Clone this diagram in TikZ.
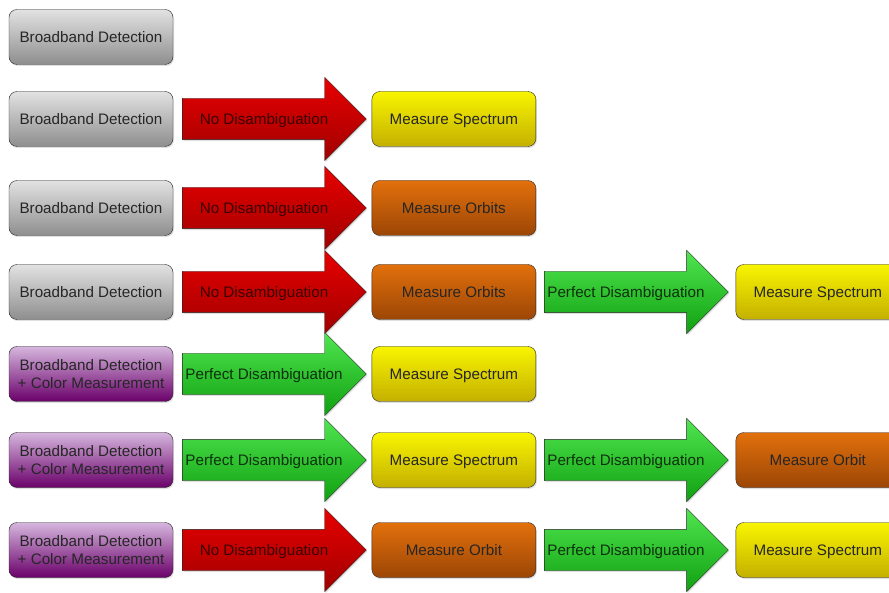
\documentclass[tikz,border=0pt]{standalone}
\usepackage{fontspec}
\setmainfont{Liberation Sans}
\usetikzlibrary{positioning,shapes.arrows,shadows}
\definecolor{greytop}{HTML}{E2E2E2}
\definecolor{greybot}{HTML}{8E8E8E}
\definecolor{purpletop}{HTML}{D6B6DE}
\definecolor{purplebot}{HTML}{6A006A}
\definecolor{yellowtop}{HTML}{F8F400}
\definecolor{yellowbot}{HTML}{C4B000}
\definecolor{orangetop}{HTML}{E2700C}
\definecolor{orangebot}{HTML}{9C4606}
\definecolor{redtop}{HTML}{E80000}
\definecolor{redbot}{HTML}{A00000}
\definecolor{greentop}{HTML}{50E650}
\definecolor{greenbot}{HTML}{10A010}
\definecolor{redtext}{HTML}{3A0000}
\definecolor{greentext}{HTML}{0E300E}

\begin{document}
\begin{tikzpicture}[
  x=1pt,y=-1pt,
  box/.style={draw=black!85,rounded corners=8pt,minimum width=164pt,minimum height=55pt,
    align=center,text=black!85,font=\fontsize{15.2}{18.5}\selectfont,text depth=0pt,
    drop shadow={opacity=0.25,shadow xshift=1pt,shadow yshift=-1.5pt}},
  greybox/.style={box,top color=greytop,bottom color=greybot},
  purplebox/.style={box,top color=purpletop,bottom color=purplebot},
  yellowbox/.style={box,top color=yellowtop,bottom color=yellowbot},
  orangebox/.style={box,top color=orangetop,bottom color=orangebot},
  disarrow/.style={single arrow,draw=black!85,minimum height=184pt,single arrow head extend=21pt,
    text height=12.4pt,text depth=1.6pt,inner ysep=13.5pt,inner xsep=5pt,
    font=\fontsize{15.2}{18}\selectfont,
    execute at begin node={\hbox to 110pt\bgroup\hss},
    execute at end node={\hss\egroup},
    drop shadow={opacity=0.25,shadow xshift=1pt,shadow yshift=-1.5pt}},
  redarrow/.style={disarrow,top color=redtop,bottom color=redbot,text=redtext},
  greenarrow/.style={disarrow,top color=greentop,bottom color=greenbot,text=greentext}
]
\useasboundingbox (0,0) rectangle (889,593);

% row 1
\node[greybox] (det1) at (91,37) {Broadband Detection};

% row 2
\node[greybox] (det2) at (91,119) {Broadband Detection};
\node[redarrow,right=9pt of det2] (dis2) {No Disambiguation};
\node[yellowbox,right=5pt of dis2] (meas2) {Measure Spectrum};

% row 3
\node[greybox] (det3) at (91,208) {Broadband Detection};
\node[redarrow,right=9pt of det3] (dis3) {No Disambiguation};
\node[orangebox,right=5pt of dis3] (meas3) {Measure Orbits};

% row 4
\node[greybox] (det4) at (91,292) {Broadband Detection};
\node[redarrow,right=9pt of det4] (dis4) {No Disambiguation};
\node[orangebox,right=5pt of dis4] (meas4) {Measure Orbits};
\node[greenarrow,right=8pt of meas4] (dis4b) {Perfect Disambiguation};
\node[yellowbox,right=7pt of dis4b] (meas4b) {Measure Spectrum};

% row 5
\node[purplebox] (det5) at (91,374) {Broadband Detection\\+ Color Measurement};
\node[greenarrow,right=9pt of det5] (dis5) {Perfect Disambiguation};
\node[yellowbox,right=5pt of dis5] (meas5) {Measure Spectrum};

% row 6
\node[purplebox] (det6) at (91,460) {Broadband Detection\\+ Color Measurement};
\node[greenarrow,right=9pt of det6] (dis6) {Perfect Disambiguation};
\node[yellowbox,right=5pt of dis6] (meas6) {Measure Spectrum};
\node[greenarrow,right=8pt of meas6] (dis6b) {Perfect Disambiguation};
\node[orangebox,right=7pt of dis6b] (meas6b) {Measure Orbit};

% row 7
\node[purplebox] (det7) at (91,550) {Broadband Detection\\+ Color Measurement};
\node[redarrow,right=9pt of det7] (dis7) {No Disambiguation};
\node[orangebox,right=5pt of dis7] (meas7) {Measure Orbit};
\node[greenarrow,right=8pt of meas7] (dis7b) {Perfect Disambiguation};
\node[yellowbox,right=7pt of dis7b] (meas7b) {Measure Spectrum};
\end{tikzpicture}
\end{document}
